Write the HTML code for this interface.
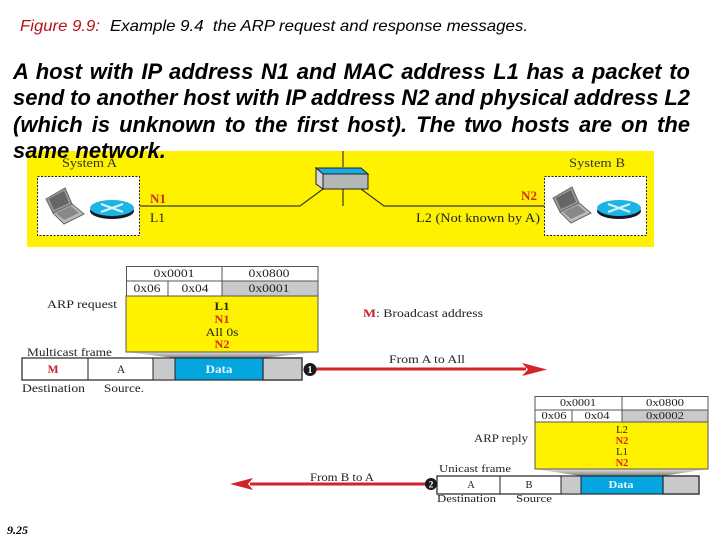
<!DOCTYPE html>
<html><head><meta charset="utf-8"><style>
html,body{margin:0;padding:0;background:#fff}
#p{position:relative;width:720px;height:540px;overflow:hidden;background:#fff}
#b{position:absolute;left:13px;top:59px;width:677px;font:italic bold 22px/26.4px "Liberation Sans",sans-serif;color:#000}
#b div{white-space:nowrap;text-align:justify;text-align-last:justify;height:26.4px}
#b div.t{word-spacing:-.4px}
#b div.l{text-align:left;text-align-last:left}
svg{position:absolute;left:0;top:0}
</style></head><body><div id="p">
<svg width="720" height="540" viewBox="0 0 720 540" font-family="'Liberation Serif',serif" font-size="11.5" fill="#222">
<defs>
<linearGradient id="g" x1="0" y1="0" x2="0" y2="1"><stop offset="0" stop-color="#e8e8e8"/><stop offset="1" stop-color="#777"/></linearGradient>
<g id="lap">
<polygon points="46,199 65,188 72,204 53,213" fill="#999" stroke="#666" stroke-width="1"/>
<polygon points="49,199 64,191 69,203 54,210" fill="#666"/>
<polygon points="53,213 72,204 84,214 64,224" fill="#bbb" stroke="#666" stroke-width="1"/>
<polygon points="56,213 71,206 79,213 64,220" fill="#888"/>
</g>
<g id="rt">
<ellipse cx="112" cy="211" rx="22" ry="8" fill="#111a22"/>
<ellipse cx="112" cy="208" rx="22" ry="8" fill="#1bb4e6"/>
<path d="M101,204 L123,212 M101,212 L123,204" stroke="#d8f4fb" stroke-width="2.2"/>
</g>
</defs>
<g style="filter:blur(.35px)">
<rect x="27" y="151" width="627" height="96" fill="#fff200"/>
<g fill="#fff" stroke="#222" stroke-width="1" stroke-dasharray="2 1.5">
<rect x="37.5" y="176.5" width="102" height="59"/>
<rect x="544.5" y="176.5" width="102" height="59"/>
</g>
<use href="#lap"/><use href="#rt"/>
<use href="#lap" x="507" y="-1"/><use href="#rt" x="507"/>
<g fill="none" stroke="#3a3a20" stroke-width="1.2">
<path d="M140,206 H300 L323,189"/>
<path d="M361,189 L384,206 H544"/>
<path d="M343,151 V167 M343,189 V206"/>
</g>
<polygon points="316,168 361,168 368,174 323,174" fill="#1ba9df" stroke="#222"/>
<rect x="323" y="174" width="45" height="15" fill="#b4b6b8" stroke="#222"/>
<polygon points="316,168 323,174 323,189 316,184" fill="#d5d6d8" stroke="#222"/>
<text x="62" y="167" font-size="12.5" fill="#333" textLength="55" lengthAdjust="spacingAndGlyphs">System A</text>
<text x="569" y="167" font-size="12.5" fill="#333" textLength="56" lengthAdjust="spacingAndGlyphs">System B</text>
<text x="150" y="203" font-weight="bold" font-size="12.5" fill="#d8281a" textLength="16" lengthAdjust="spacingAndGlyphs">N1</text>
<text x="150" y="222" font-size="12.5" textLength="15" lengthAdjust="spacingAndGlyphs">L1</text>
<text x="521" y="200" font-weight="bold" font-size="12.5" fill="#d8281a" textLength="16" lengthAdjust="spacingAndGlyphs">N2</text>
<text x="416" y="222" font-size="12.5" textLength="124" lengthAdjust="spacingAndGlyphs">L2 (Not known by A)</text>

<!-- request -->
<polygon points="126,352 318,352 263,358 175,358" fill="url(#g)"/>
<rect x="126" y="296" width="192" height="56" fill="#fff200" stroke="#555"/>
<rect x="222" y="281" width="96" height="15" fill="#c8c9cb"/>
<path d="M126.500,266.500 H318 V296 H126.500 Z M126.500,281 H318 M222,266.500 V296 M168,281 V296" fill="none" stroke="#555"/>
<g text-anchor="middle" lengthAdjust="spacingAndGlyphs">
<text x="174" y="277" textLength="41" lengthAdjust="spacingAndGlyphs">0x0001</text><text x="269" y="277" textLength="41" lengthAdjust="spacingAndGlyphs">0x0800</text>
<text x="147" y="292" textLength="27" lengthAdjust="spacingAndGlyphs">0x06</text><text x="195" y="292" textLength="27" lengthAdjust="spacingAndGlyphs">0x04</text><text x="269" y="292" textLength="41" lengthAdjust="spacingAndGlyphs">0x0001</text>
<text x="222" y="310" font-weight="bold" textLength="15" lengthAdjust="spacingAndGlyphs">L1</text>
<text x="222" y="323" font-weight="bold" fill="#d8281a" textLength="15" lengthAdjust="spacingAndGlyphs">N1</text>
<text x="222" y="336" textLength="33" lengthAdjust="spacingAndGlyphs">All 0s</text>
<text x="222" y="348" font-weight="bold" fill="#d8281a" textLength="15" lengthAdjust="spacingAndGlyphs">N2</text>
</g>
<text x="47" y="308" textLength="70" lengthAdjust="spacingAndGlyphs">ARP request</text>
<text x="27" y="356" textLength="85" lengthAdjust="spacingAndGlyphs">Multicast frame</text>
<text x="22" y="392" textLength="63" lengthAdjust="spacingAndGlyphs">Destination</text>
<text x="104" y="392" textLength="40" lengthAdjust="spacingAndGlyphs">Source.</text>
<rect x="22" y="358" width="280" height="22" fill="#fff" stroke="#222" stroke-width="1.200"/>
<rect x="153" y="358" width="22" height="22" fill="#c8c9cb" stroke="#222"/>
<rect x="175" y="358" width="88" height="22" fill="#05a6e0" stroke="#222"/>
<rect x="263" y="358" width="39" height="22" fill="#c8c9cb" stroke="#222" stroke-width="1.200"/>
<path d="M88,358 V380" stroke="#222"/>
<g text-anchor="middle" font-weight="bold">
<text x="53" y="373" fill="#c4202a">M</text>
<text x="219" y="373" fill="#e8f8ff" textLength="27" lengthAdjust="spacingAndGlyphs">Data</text>
</g>
<text x="121" y="373" text-anchor="middle">A</text>
<text x="363" y="317" textLength="120" lengthAdjust="spacingAndGlyphs"><tspan fill="#c4202a" font-weight="bold">M</tspan>: Broadcast address</text>
<text x="389" y="363" textLength="76" lengthAdjust="spacingAndGlyphs">From A to All</text>
<rect x="316" y="367.500" width="210" height="3" fill="#d2232a"/>
<polygon points="547,369.500 522,363 528,369.500 522,376" fill="#d2232a"/>
<circle cx="310" cy="369.500" r="6.500" fill="#1a1a1a"/>
<text x="310" y="373" text-anchor="middle" font-size="10" font-weight="bold" fill="#fff">1</text>

<!-- reply -->
<polygon points="535,469 708,469 663,476 581,476" fill="url(#g)"/>
<rect x="535" y="422" width="173" height="47" fill="#fff200" stroke="#555"/>
<rect x="622" y="410" width="86" height="12" fill="#c8c9cb"/>
<path d="M535,396.500 H708 V422 H535 Z M535,410 H708 M622,396.500 V422 M572,410 V422" fill="none" stroke="#555"/>
<g text-anchor="middle" font-size="10.500">
<text x="578" y="406" textLength="36" lengthAdjust="spacingAndGlyphs">0x0001</text><text x="665" y="406" textLength="38" lengthAdjust="spacingAndGlyphs">0x0800</text>
<text x="554" y="419" textLength="25" lengthAdjust="spacingAndGlyphs">0x06</text><text x="597" y="419" textLength="25" lengthAdjust="spacingAndGlyphs">0x04</text><text x="665" y="419" textLength="38" lengthAdjust="spacingAndGlyphs">0x0002</text>
<text x="622" y="433">L2</text>
<text x="622" y="444" font-weight="bold" fill="#d8281a">N2</text>
<text x="622" y="455">L1</text>
<text x="622" y="466" font-weight="bold" fill="#d8281a">N2</text>
</g>
<text x="474" y="442" textLength="54" lengthAdjust="spacingAndGlyphs">ARP reply</text>
<text x="439" y="472" font-size="10.500" textLength="72" lengthAdjust="spacingAndGlyphs">Unicast frame</text>
<text x="437" y="502" font-size="10.500" textLength="59" lengthAdjust="spacingAndGlyphs">Destination</text>
<text x="516" y="502" font-size="10.500" textLength="36" lengthAdjust="spacingAndGlyphs">Source</text>
<rect x="437" y="476" width="262" height="18" fill="#fff" stroke="#222" stroke-width="1.200"/>
<rect x="561" y="476" width="20" height="18" fill="#c8c9cb" stroke="#222"/>
<rect x="581" y="476" width="82" height="18" fill="#05a6e0" stroke="#222"/>
<rect x="663" y="476" width="36" height="18" fill="#c8c9cb" stroke="#222" stroke-width="1.200"/>
<path d="M500,476 V494" stroke="#222"/>
<g text-anchor="middle" font-size="10.500">
<text x="471" y="488">A</text><text x="529" y="488">B</text>
<text x="621" y="488" font-weight="bold" fill="#e8f8ff" textLength="25" lengthAdjust="spacingAndGlyphs">Data</text>
</g>
<text x="310" y="481" textLength="64" lengthAdjust="spacingAndGlyphs">From B to A</text>
<rect x="250" y="482.500" width="176" height="3" fill="#d2232a"/>
<polygon points="230,484 253,478 248,484 253,490" fill="#d2232a"/>
<circle cx="431" cy="484" r="6" fill="#1a1a1a"/>
<text x="431" y="487.500" text-anchor="middle" font-size="9.500" font-weight="bold" fill="#fff">2</text>
</g>
<g font-family="'Liberation Sans',sans-serif" font-style="italic" font-size="16">
<text x="20" y="31" fill="#b5121b" textLength="80" lengthAdjust="spacingAndGlyphs">Figure 9.9:</text>
<text x="110" y="31" fill="#000" textLength="418" lengthAdjust="spacingAndGlyphs" xml:space="preserve">Example 9.4  the ARP request and response messages.</text>
</g>
<text x="7" y="534" font-family="'Liberation Serif',serif" font-size="12" font-weight="bold" font-style="italic" fill="#000">9.25</text>
</svg>
<div id="b">
<div>A host with IP address N1 and MAC address L1 has a packet to</div>
<div class="t">send to another host with IP address N2 and physical address L2</div>
<div>(which is unknown to the first host). The two hosts are on the</div>
<div class="l">same network.</div>
</div>
</div></body></html>
